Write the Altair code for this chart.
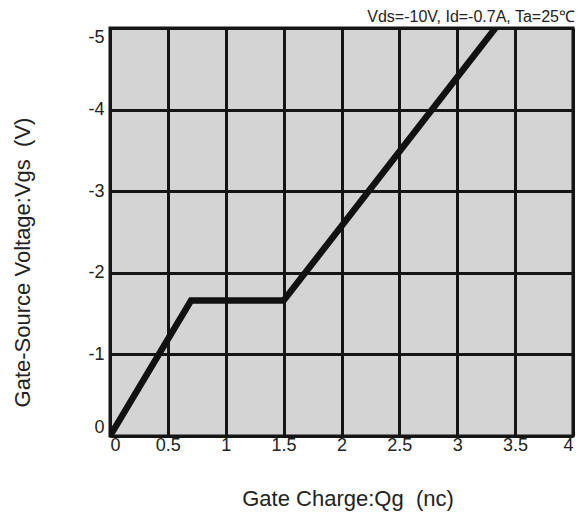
import altair as alt
import pandas as pd

qg = [0.0, 0.7, 1.5, 3.33]
vgs = [0.0, -1.66, -1.66, -5.0]
x_ticks = [0, 0.5, 1, 1.5, 2, 2.5, 3, 3.5, 4]
y_ticks = [0, -1, -2, -3, -4, -5]
note = "Vds=-10V, Id=-0.7A, Ta=25℃"
x_title = "Gate Charge:Qg\u00a0 (nc)"
y_title = "Gate-Source Voltage:Vgs\u00a0 (V)"

df = pd.DataFrame({"qg": qg, "vgs": vgs})
W, H = 463, 408
FONT = "Liberation Sans"

line = alt.Chart(df).mark_line(color="#111111", strokeWidth=6.5, clip=True).encode(
    x=alt.X("qg:Q", scale=alt.Scale(domain=[0, 4], nice=False, zero=False),
            axis=alt.Axis(values=x_ticks, title=x_title, labelFontSize=18,
                          labelPadding=0, ticks=False, domain=False,
                          labelExpr="''+datum.value",
                          titleFontSize=22, titleFontWeight="normal",
                          titleX=W / 2 + 6, titleY=62, titleBaseline="middle",
                          gridColor="#151515", gridWidth=3, gridOpacity=1)),
    y=alt.Y("vgs:Q", scale=alt.Scale(domain=[0, -5], nice=False, zero=False),
            axis=alt.Axis(values=y_ticks, title=y_title, labelFontSize=18,
                          labelPadding=6, ticks=False, domain=False,
                          labelFlush=True,
                          labelExpr="''+datum.value",
                          titleFontSize=22, titleFontWeight="normal",
                          titleX=-88, titleY=H / 2 + 30, titleBaseline="middle",
                          gridColor="#151515", gridWidth=3, gridOpacity=1)),
)

ann = alt.Chart(pd.DataFrame({"t": [note]})).mark_text(
    align="right", baseline="middle", fontSize=16, font=FONT, color="#222222"
).encode(x=alt.value(W + 2), y=alt.value(-11), text="t:N")

chart = (line + ann).properties(
    width=W, height=H,
    autosize=alt.AutoSizeParams(type="none"),
    padding={"left": 102, "top": 20, "right": 2, "bottom": 75},
).configure_view(
    fill="#d4d4d4", stroke="#151515", strokeWidth=3
).configure_axis(
    labelFont=FONT, titleFont=FONT, labelColor="#222222", titleColor="#222222"
)

chart.save("out.html", embed_options={"renderer": "svg", "actions": False})
